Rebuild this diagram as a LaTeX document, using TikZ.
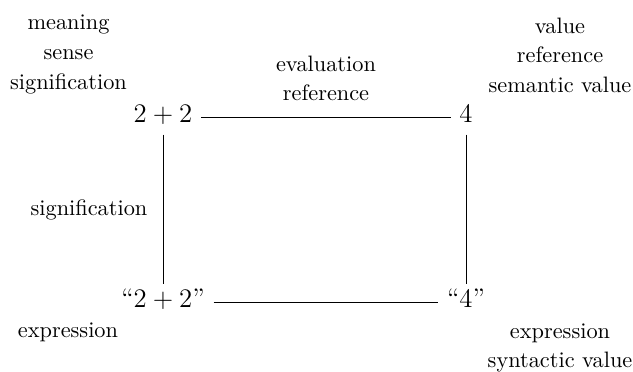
\documentclass[tikz,border=0pt]{standalone}
\usepackage{array}
\begin{document}
\begin{tikzpicture}[x=0.448pt,y=-0.448pt,
  obj/.style={font=\large, anchor=base, inner xsep=3.8pt, inner ysep=1.5pt,
    text height=8.4pt, text depth=3.9pt},
  lbl/.style={anchor=base, inner sep=0pt, font=\normalsize},
  conn/.style={draw, line width=0.4pt}]
\useasboundingbox (0,0) rectangle (633,371);
\def\arraystretch{1.117}
\setlength{\tabcolsep}{0pt}
% main objects
\node[obj] (a) at (163,122) {$2+2$};
\node[obj] (b) at (466,122) {$4$};
\node[obj] (c) at (163,307) {``$2+2$''};
\node[obj] (d) at (466,307) {``$4$''};
% connectors
\draw[conn] (a) -- (b);
\draw[conn] (c) -- (d);
\draw[conn] (a) -- (c);
\draw[conn] (b) -- (d);
% labels
\node[lbl] (tl) at (68.5,29.3) {\begin{tabular}[t]{c}meaning\\ sense\\ signification\end{tabular}};
\node[lbl] (tr) at (560,33) {\begin{tabular}[t]{c}value\\ reference\\ semantic value\end{tabular}};
\node[lbl] (ev) at (326,71) {\begin{tabular}[t]{c}evaluation\\ reference\end{tabular}};
\node[lbl] (sg) at (89,215) {signification};
\node[lbl] (bl) at (68,337) {expression};
\node[lbl] (br) at (560,338) {\begin{tabular}[t]{c}expression\\ syntactic value\end{tabular}};
\end{tikzpicture}
\end{document}
